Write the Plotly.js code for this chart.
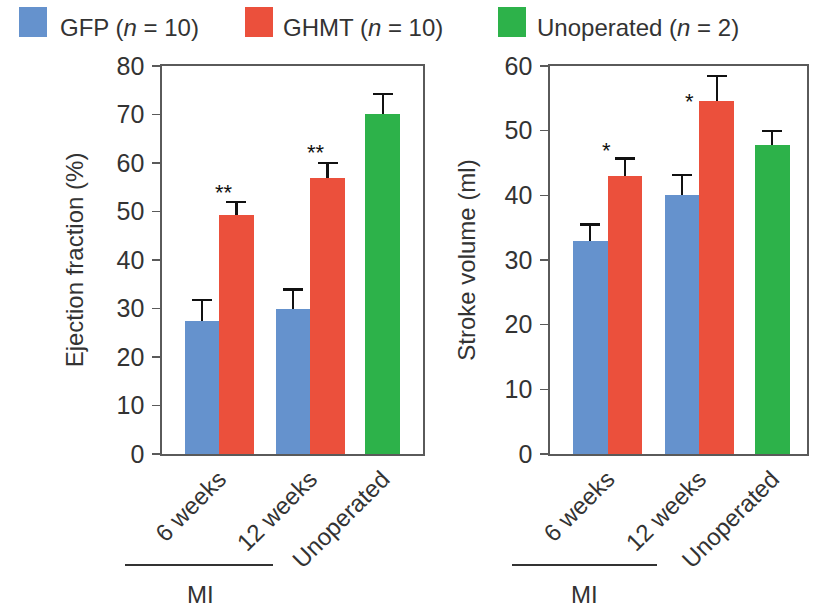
<!DOCTYPE html>
<html>
<head>
<meta charset="utf-8">
<script src="https://cdn.plot.ly/plotly-3.0.1.min.js"></script>
<style>
  html, body { margin: 0; padding: 0; background: #ffffff; }
  #chart { width: 813px; height: 607px; }
</style>
</head>
<body>
<div id="chart"></div>
<script>
// Group labels on the x axis
const categories = ['6 weeks', '12 weeks', 'Unoperated'];

// Ejection fraction (%), mean and SEM
const efGFP = [27.5, 30.0];
const efGFPErr = [4.2, 3.9];
const efGHMT = [49.3, 56.9];
const efGHMTErr = [2.6, 3.1];
const efUnop = [70.1];
const efUnopErr = [4.1];

// Stroke volume (ml), mean and SEM
const svGFP = [33.0, 40.0];
const svGFPErr = [2.5, 3.2];
const svGHMT = [43.0, 54.6];
const svGHMTErr = [2.7, 3.9];
const svUnop = [47.8];
const svUnopErr = [2.2];

// Significance marks above the GHMT bars
const efStars = ['**', '**'];
const svStars = ['*', '*'];

// ---- layout constants ----
const W = 813, H = 607;
const groupPos = [1.66, 4.3, 6.4];   // x centre of each group on the numeric axis
const barW = 1;
const COLORS = { gfp: '#6592cd', ghmt: '#eb503c', unop: '#2db24a' };
const FONT = 'Liberation Sans, Arial, Helvetica, sans-serif';
const TXT = '#333333';
const LINE = '#5a5a5a';

const px = v => v / W;           // pixel -> paper x
const py = v => 1 - v / H;       // pixel -> paper y

// One series = a transparent bar carrying the SEM whiskers, then the
// coloured bar drawn over it so only the upper whisker shows (a "T").
function series(xs, ys, errs, color, xa, ya) {
  const common = { type: 'bar', x: xs, y: ys, width: barW, xaxis: xa, yaxis: ya,
                   showlegend: false, hoverinfo: 'skip' };
  const whisker = Object.assign({}, common, {
    marker: { color: 'rgba(0,0,0,0)', line: { width: 0 } },
    error_y: { type: 'data', array: errs, symmetric: true,
               color: '#111111', thickness: 2.2, width: 10 }
  });
  const bar = Object.assign({}, common, {
    marker: { color: color, line: { width: 0 } }
  });
  return { whisker, bar };
}

function panelTraces(gfp, gfpErr, ghmt, ghmtErr, unop, unopErr, xa, ya) {
  const s = [
    series(gfp.map((_, i) => groupPos[i] - barW / 2), gfp, gfpErr, COLORS.gfp, xa, ya),
    series(ghmt.map((_, i) => groupPos[i] + barW / 2), ghmt, ghmtErr, COLORS.ghmt, xa, ya),
    series(unop.map(() => groupPos[2]), unop, unopErr, COLORS.unop, xa, ya)
  ];
  return s.map(t => t.whisker).concat(s.map(t => t.bar));
}

const data = [].concat(
  panelTraces(efGFP, efGFPErr, efGHMT, efGHMTErr, efUnop, efUnopErr, 'x', 'y'),
  panelTraces(svGFP, svGFPErr, svGHMT, svGHMTErr, svUnop, svUnopErr, 'x2', 'y2')
);

const yDomain = [py(454), py(66)];

function xAxis(domain, range, anchor) {
  return {
    domain: domain, range: range, anchor: anchor,
    tickmode: 'array', tickvals: groupPos, ticktext: categories,
    tickangle: -45, ticks: '', tickfont: { family: FONT, size: 24, color: TXT },
    showline: true, mirror: true, linecolor: LINE, linewidth: 1.6,
    showgrid: false, zeroline: false, fixedrange: true
  };
}

function yAxis(domain, range, anchor, title, standoff) {
  return {
    domain: domain, range: range, anchor: anchor, dtick: 10, tick0: 0,
    ticks: 'outside', ticklen: 8, tickwidth: 1.6, tickcolor: LINE,
    ticklabelstandoff: 3,
    tickfont: { family: FONT, size: 25, color: TXT },
    showline: true, mirror: true, linecolor: LINE, linewidth: 1.6,
    showgrid: false, zeroline: false, fixedrange: true,
    title: { text: title, font: { family: FONT, size: 24, color: TXT }, standoff: standoff }
  };
}

// star annotations: anchored to the top of each GHMT error bar
function starNotes(stars, vals, errs, xa, ya, xshift, yshift) {
  return stars.map((s, i) => ({
    text: s, x: groupPos[i] + barW / 2, y: vals[i] + errs[i], xref: xa, yref: ya,
    xshift: xshift[i], yshift: yshift[i], showarrow: false,
    font: { family: FONT, size: 22, color: '#111111' }
  }));
}

const annotations = [].concat(
  starNotes(efStars, efGHMT, efGHMTErr, 'x', 'y', [-12, -12], [10, 11]),
  starNotes(svStars, svGHMT, svGHMTErr, 'x2', 'y2', [-19, -27], [8, -26])
);

// legend entries drawn as colour swatches with labels
const legendItems = [
  { label: 'GFP (<i>n</i> = 10)', color: COLORS.gfp, x: 19, tx: 58 },
  { label: 'GHMT (<i>n</i> = 10)', color: COLORS.ghmt, x: 245, tx: 281 },
  { label: 'Unoperated (<i>n</i> = 2)', color: COLORS.unop, x: 498, tx: 535 }
];

const shapes = [];
legendItems.forEach(it => {
  shapes.push({
    type: 'rect', xref: 'paper', yref: 'paper',
    x0: px(it.x), x1: px(it.x + 28), y0: py(37), y1: py(7),
    fillcolor: it.color, line: { width: 0 }
  });
  annotations.push({
    text: it.label, xref: 'paper', yref: 'paper', x: px(it.tx), y: py(28),
    xanchor: 'left', yanchor: 'middle', showarrow: false,
    font: { family: FONT, size: 24, color: TXT }
  });
});

// "MI" bracket under the two infarct groups of each panel
[[125, 273, 200], [512, 657, 584]].forEach(([a, b, c]) => {
  shapes.push({
    type: 'line', xref: 'paper', yref: 'paper',
    x0: px(a), x1: px(b), y0: py(565), y1: py(565),
    line: { color: '#333333', width: 1.8 }
  });
  annotations.push({
    text: 'MI', xref: 'paper', yref: 'paper', x: px(c), y: py(594),
    xanchor: 'center', yanchor: 'middle', showarrow: false,
    font: { family: FONT, size: 24, color: TXT }
  });
});

const layout = {
  width: W, height: H,
  margin: { l: 0, r: 0, t: 0, b: 0 },
  paper_bgcolor: '#ffffff', plot_bgcolor: '#ffffff',
  barmode: 'overlay', bargap: 0,
  showlegend: false,
  xaxis: xAxis([px(162), px(423)], [0, 7.57], 'y'),
  yaxis: yAxis(yDomain, [0, 80], 'x', 'Ejection fraction (%)', 26),
  xaxis2: xAxis([px(550), px(807)], [0, 7.4], 'y2'),
  yaxis2: yAxis(yDomain, [0, 60], 'x2', 'Stroke volume (ml)', 22),
  shapes: shapes,
  annotations: annotations
};

Plotly.newPlot('chart', data, layout, { displayModeBar: false, staticPlot: true });
</script>
</body>
</html>
